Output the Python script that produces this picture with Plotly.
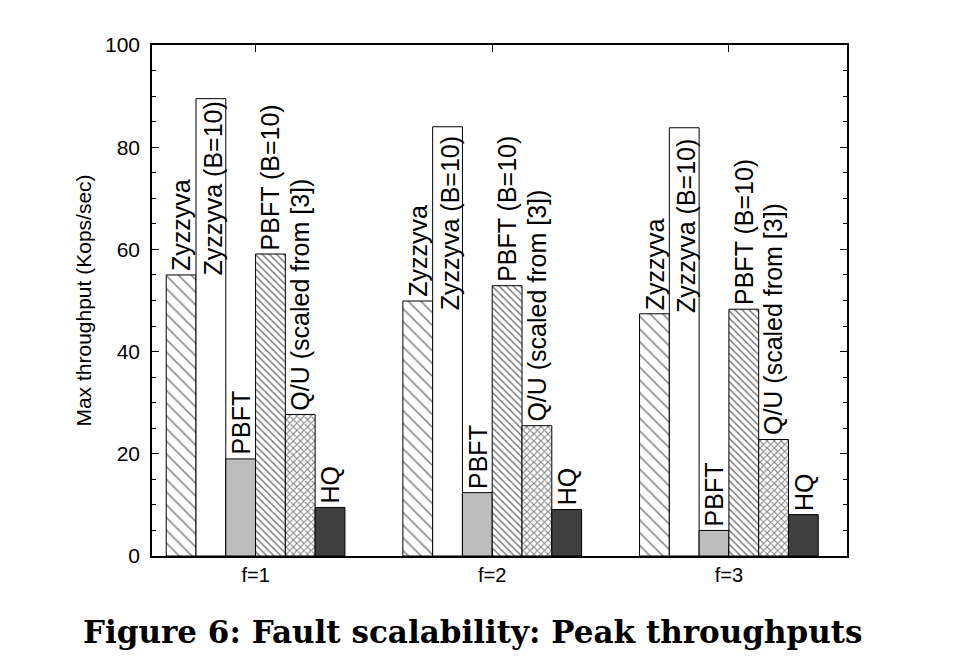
import plotly.graph_objects as go

# ---- data ----
groups = ["f=1", "f=2", "f=3"]
group_pos = [1, 2, 3]
series_names = ["Zyzzyva", "Zyzzyva (B=10)", "PBFT", "PBFT (B=10)",
                "Q/U (scaled from [3])", "HQ"]
zyzzyva = [55.0, 49.9, 47.4]
zyzzyva_b10 = [89.5, 84.0, 83.8]
pbft = [19.0, 12.4, 5.0]
pbft_b10 = [59.1, 52.9, 48.3]
qu = [27.7, 25.5, 22.8]
hq = [9.5, 9.1, 8.1]
values = [zyzzyva, zyzzyva_b10, pbft, pbft_b10, qu, hq]

# ---- styles ----
styles = [
    dict(color="white", pattern=dict(shape="\\", size=9, solidity=0.17, fgcolor="black", bgcolor="white")),
    dict(color="white"),
    dict(color="#bdbdbd"),
    dict(color="white", pattern=dict(shape="\\", size=5, solidity=0.3, fgcolor="black", bgcolor="white")),
    dict(color="white", pattern=dict(shape="x", size=5, solidity=0.38, fgcolor="black", bgcolor="white")),
    dict(color="#404040"),
]

BARGAP = 0.245
n = len(series_names)
bw = (1 - BARGAP) / n

fig = go.Figure()
for i, (name, vals) in enumerate(zip(series_names, values)):
    fig.add_trace(go.Bar(
        x=group_pos, y=vals, name=name,
        marker=dict(line=dict(color="black", width=1), **styles[i]),
        showlegend=False,
    ))

label_font = dict(family="Liberation Sans, Arial, sans-serif", size=25, color="black")
b10_shift = [-1, -8, -9]
annotations = []
for i, (name, vals) in enumerate(zip(series_names, values)):
    for g, (gp, v) in enumerate(zip(group_pos, vals)):
        xc = gp + (i - (n - 1) / 2) * bw
        if i == 1:
            annotations.append(dict(x=xc, y=v, xref="x", yref="y", text=name,
                                    textangle=-90, showarrow=False, xanchor="center",
                                    yanchor="top", yshift=b10_shift[g], xshift=2,
                                    font=label_font))
        else:
            annotations.append(dict(x=xc, y=v, xref="x", yref="y", text=name,
                                    textangle=-90, showarrow=False, xanchor="center",
                                    yanchor="bottom", yshift=2, font=label_font))

annotations.append(dict(
    x=0.4615, y=-0.148, xref="paper", yref="paper",
    text="<b>Figure 6: Fault scalability: Peak throughputs</b>",
    showarrow=False, xanchor="center", yanchor="middle",
    font=dict(family="DejaVu Serif, serif", size=31, color="black")))

fig.update_layout(
    width=974, height=666,
    margin=dict(l=152, r=127, t=45, b=110),
    paper_bgcolor="white", plot_bgcolor="white",
    barmode="group", bargap=BARGAP, bargroupgap=0,
    annotations=annotations,
    font=dict(family="Liberation Sans, Arial, sans-serif", color="black"),
)
fig.update_xaxes(
    range=[0.5624, 3.499], tickvals=group_pos, ticktext=groups,
    ticks="inside", ticklen=7, tickcolor="black", tickwidth=1,
    showline=True, linecolor="black", linewidth=1.5, mirror="allticks",
    showgrid=False, zeroline=False,
    tickfont=dict(size=20, color="black"),
)
fig.update_yaxes(
    range=[0, 100], dtick=20, tick0=0,
    ticks="inside", ticklen=7, tickcolor="black", tickwidth=1,
    minor=dict(dtick=5, ticks="inside", ticklen=4, tickcolor="black", showgrid=False),
    showline=True, linecolor="black", linewidth=1.5, mirror="allticks",
    showgrid=False, zeroline=False,
    tickfont=dict(size=21, color="black"),
    ticklabelstandoff=6,
    title=dict(text="Max throughput (Kops/sec)", font=dict(size=21, color="black"), standoff=8),
)

fig.write_html("out.html")
